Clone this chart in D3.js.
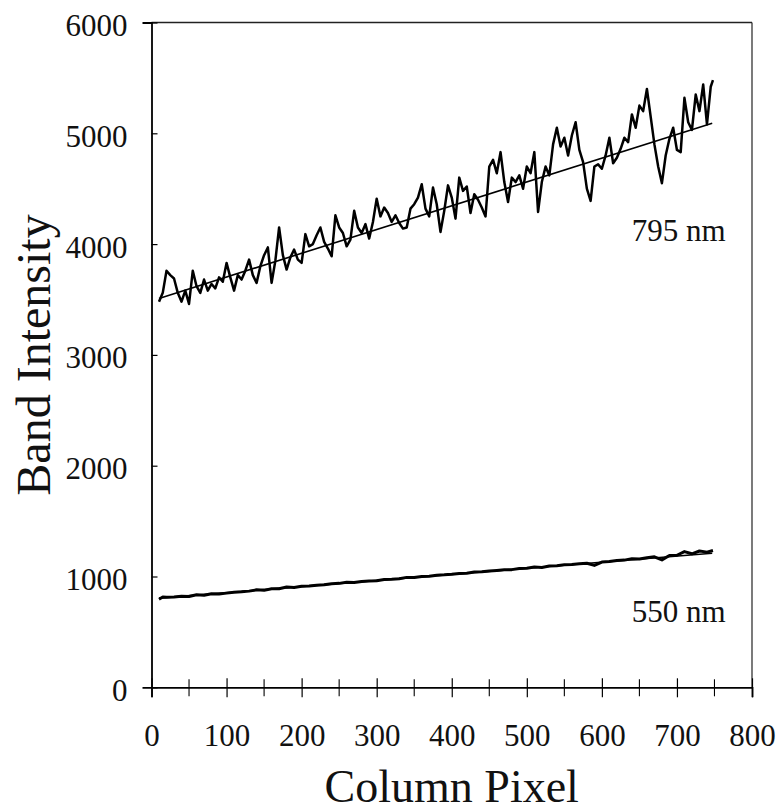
<!DOCTYPE html>
<html><head><meta charset="utf-8">
<script src="https://cdn.jsdelivr.net/npm/d3@7"></script>
<style>body{margin:0;background:#fff}svg{display:block}text{font-family:"Liberation Serif","Times New Roman",serif;fill:#111}</style>
</head><body>
<script>
// ---- data ----
const cols795 = [10,15,20,25,30,35,40,45,50,55,60,65,70,75,80,85,90,95,100,105,110,115,120,125,130,135,140,145,150,155,160,165,170,175,180,185,190,195,200,205,210,215,220,225,230,235,240,245,250,255,260,265,270,275,280,285,290,295,300,305,310,315,320,325,330,335,340,345,350,355,360,365,370,375,380,385,390,395,400,405,410,415,420,425,430,435,440,445,450,455,460,465,470,475,480,485,490,495,500,505,510,515,520,525,530,535,540,545,550,555,560,565,570,575,580,585,590,595,600,605,610,615,620,625,630,635,640,645,650,655,660,665,670,675,680,685,690,695,700,705,710,715,720,725,730,735,740,745,748];
const vals795 = [3480,3560,3760,3720,3690,3560,3480,3580,3460,3760,3620,3560,3680,3580,3640,3600,3700,3660,3830,3700,3580,3720,3680,3760,3860,3720,3650,3800,3900,3970,3650,3850,4150,3900,3770,3880,3950,3860,3830,4090,3980,4000,4080,4150,4020,3960,3890,4260,4150,4100,3980,4040,4300,4150,4100,4180,4050,4200,4410,4250,4330,4280,4200,4260,4190,4140,4150,4320,4360,4420,4540,4320,4250,4510,4360,4110,4300,4530,4420,4230,4600,4480,4520,4280,4450,4400,4330,4250,4700,4760,4640,4830,4560,4380,4600,4560,4620,4500,4700,4640,4830,4290,4560,4700,4620,4900,5050,4880,4960,4800,4980,5100,4850,4740,4500,4390,4700,4720,4680,4800,4960,4730,4780,4860,4960,4920,5170,5050,5250,5200,5400,5150,4900,4700,4550,4800,4950,5050,4850,4830,5320,5100,5030,5350,5200,5440,5080,5420,5480];
const cols550 = [10,15,20,30,40,50,60,70,80,90,100,110,120,130,140,150,160,170,180,190,200,210,220,230,240,250,260,270,280,290,300,310,320,330,340,350,360,370,380,390,400,410,420,430,440,450,460,470,480,490,500,510,520,530,540,550,560,570,580,590,600,610,620,630,640,650,660,670,680,690,700,710,720,730,740,748];
const vals550 = [795,815,812,815,822,820,835,830,845,842,850,858,862,868,880,875,890,890,905,900,912,915,922,925,935,938,948,945,955,960,962,972,975,980,992,990,1000,1002,1012,1015,1020,1028,1030,1040,1042,1050,1055,1060,1062,1072,1075,1085,1082,1095,1098,1105,1108,1115,1120,1100,1130,1135,1145,1148,1160,1158,1170,1178,1150,1190,1192,1225,1205,1230,1220,1235];
const fit795 = [[10,3510],[747,5090]];
const fit550 = [[10,805],[747,1210]];
const xMajor = [0,100,200,300,400,500,600,700,800];
const xMinor = [50,150,250,350,450,550,650,750];
const yTicks = [0,1000,2000,3000,4000,5000,6000];
const labels = [{text:"795 nm", c:765, v:4030},{text:"550 nm", c:765, v:590}];

// ---- layout ----
const W=783,H=812, L=151.5, R=752, T=22.5, B=687.3;
const svg=d3.select("body").append("svg").attr("width",W).attr("height",H);
const x=d3.scaleLinear().domain([0,800]).range([L,R]);
const y=d3.scaleLinear().domain([0,6000]).range([B,T]);

// frame top/right
svg.append("line").attr("x1",L).attr("x2",R).attr("y1",T).attr("y2",T).attr("stroke","#222").attr("stroke-width",1.3);
svg.append("line").attr("x1",R).attr("x2",R).attr("y1",T).attr("y2",B).attr("stroke","#222").attr("stroke-width",1.2);

// x axis
const gx=svg.append("g").attr("transform",`translate(0,${B})`)
  .call(d3.axisBottom(x).tickValues(xMajor).tickSize(10).tickFormat(d3.format("d")));
gx.select(".domain").attr("stroke","#000").attr("stroke-width",1.8);
gx.selectAll(".tick line").attr("y1",-9).attr("stroke","#000").attr("stroke-width",1.2);
gx.selectAll(".tick text").attr("y",59).attr("dy",0).style("font-size","31px").style("font-family","Liberation Serif");
gx.selectAll(".minor").data(xMinor).join("line").attr("class","minor")
  .attr("x1",d=>x(d)).attr("x2",d=>x(d)).attr("y1",-8).attr("y2",9).attr("stroke","#000").attr("stroke-width",1.1);

// y axis
const gy=svg.append("g").attr("transform",`translate(${L},0)`)
  .call(d3.axisLeft(y).tickValues(yTicks).tickSize(9).tickFormat(d3.format("d")));
gy.select(".domain").attr("stroke","#000").attr("stroke-width",1.8);
gy.selectAll(".tick line").attr("x2",6).attr("stroke","#000").attr("stroke-width",1.2);
gy.selectAll(".tick text").attr("x",-24).attr("dy","0.42em").style("font-size","31px").style("font-family","Liberation Serif");

// axis titles
svg.append("text").attr("x",(L+R)/2).attr("y",802).attr("text-anchor","middle").style("font-size","46px").text("Column Pixel");
svg.append("text").attr("transform","translate(50,355) rotate(-90)").attr("text-anchor","middle").style("font-size","48px").text("Band Intensity");

// series
const line=d3.line().x(d=>x(d[0])).y(d=>y(d[1]));
const d795=cols795.map((c,i)=>[c,vals795[i]]);
const d550=cols550.map((c,i)=>[c,vals550[i]]);
svg.append("path").datum(fit795).attr("d",line).attr("fill","none").attr("stroke","#000").attr("stroke-width",1.6);
svg.append("path").datum(fit550).attr("d",line).attr("fill","none").attr("stroke","#000").attr("stroke-width",1.6);
svg.append("path").datum(d795).attr("d",line).attr("fill","none").attr("stroke","#000").attr("stroke-width",2.5).attr("stroke-linejoin","round");
svg.append("path").datum(d550).attr("d",line).attr("fill","none").attr("stroke","#000").attr("stroke-width",3).attr("stroke-linejoin","round");

// labels
svg.selectAll(".lab").data(labels).join("text").attr("class","lab")
  .attr("x",d=>x(d.c)-0).attr("y",d=>y(d.v)).attr("text-anchor","end").style("font-size","31px").text(d=>d.text);
</script>
</body></html>
